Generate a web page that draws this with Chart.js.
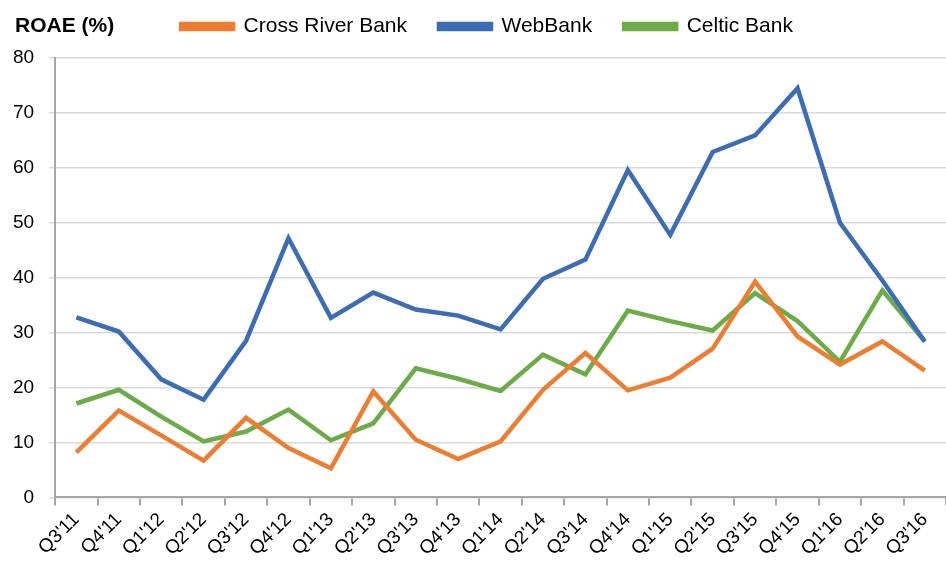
<!DOCTYPE html>
<html>
<head>
<meta charset="utf-8">
<script src="https://cdn.jsdelivr.net/npm/chart.js@4"></script>
<style>
  html, body { margin: 0; padding: 0; background: #fff; }
  #wrap { position: relative; width: 946px; height: 566px; }
  #ytitle { position: absolute; left: 15px; top: 13px; font: bold 21px "Liberation Sans", Arial, sans-serif; color: #000; }
</style>
</head>
<body>
<div id="wrap">
  <canvas id="roae" width="946" height="566"></canvas>
  <div id="ytitle">ROAE (%)</div>
</div>
<script>
var quarters = ["Q3'11","Q4'11","Q1'12","Q2'12","Q3'12","Q4'12","Q1'13","Q2'13","Q3'13","Q4'13","Q1'14",
                "Q2'14","Q3'14","Q4'14","Q1'15","Q2'15","Q3'15","Q4'15","Q1'16","Q2'16","Q3'16"];
var crossRiver = [8.2,15.8,11.3,6.7,14.5,9.0,5.3,19.3,10.5,7.0,10.2,19.6,26.3,19.5,21.8,27.1,39.3,29.3,24.2,28.4,23.1];
var webBank = [32.8,30.2,21.5,17.8,28.5,47.2,32.7,37.3,34.2,33.1,30.6,39.8,43.3,59.6,47.8,62.9,65.9,74.5,50.0,39.5,28.4];
var celtic = [17.1,19.6,14.7,10.2,12.0,16.0,10.4,13.5,23.5,21.6,19.4,26.0,22.4,34.0,32.1,30.4,37.2,32.1,24.7,37.7,28.4];

var FONT = '"Liberation Sans", Arial, sans-serif';

function series(label, values, color) {
  return {
    label: label,
    data: values,
    borderColor: color,
    backgroundColor: color,
    borderWidth: 4.5,
    pointRadius: 0,
    tension: 0,
    fill: false
  };
}

// nudge the legend up/right so it sits on the same line as the "ROAE (%)" title
var legendNudge = {
  id: 'legendNudge',
  afterLayout: function(chart) {
    var lg = chart.legend;
    if (!lg) return;
    var dx = 15, dy = -11;
    lg.left += dx; lg.right += dx;
    lg.top += dy; lg.bottom += dy;
    if (lg.legendHitBoxes) {
      lg.legendHitBoxes.forEach(function(b) { b.left += dx; b.top += dy; });
    }
  }
};

var ctx = document.getElementById('roae');
var chart = new Chart(ctx, {
  type: 'line',
  data: {
    labels: quarters,
    datasets: [
      series('Cross River Bank', crossRiver, '#ED7D31'),
      series('WebBank', webBank, '#3B6CB4'),
      series('Celtic Bank', celtic, '#6BAB48')
    ]
  },
  options: {
    responsive: false,
    animation: false,
    layout: { autoPadding: false, padding: { left: -2, right: 0, top: -5, bottom: 3 } },
    plugins: {
      legend: {
        display: true,
        labels: {
          boxWidth: 52,
          boxHeight: 5,
          color: '#000',
          padding: 32,
          font: { family: FONT, size: 21 }
        }
      },
      tooltip: { enabled: false }
    },
    scales: {
      x: {
        offset: true,
        grid: { display: true, drawOnChartArea: false, tickLength: 8, color: '#a6a6a6', lineWidth: 2, offset: true },
        border: { color: '#a6a6a6', width: 2 },
        ticks: {
          minRotation: 45,
          maxRotation: 45,
          color: '#000',
          font: { family: FONT, size: 19 }
        }
      },
      y: {
        min: 0,
        max: 80,
        ticks: {
          stepSize: 10,
          color: '#000',
          padding: 15,
          font: { family: FONT, size: 19 }
        },
        grid: { color: '#d9d9d9', lineWidth: 1.5, tickLength: 6 },
        border: { color: '#a6a6a6', width: 2 }
      }
    }
  },
  plugins: [legendNudge]
});
</script>
</body>
</html>
